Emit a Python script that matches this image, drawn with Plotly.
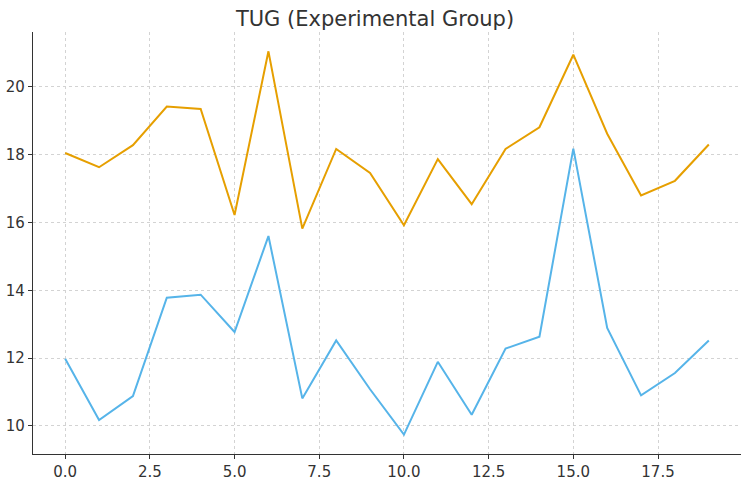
import plotly.graph_objects as go

# ========================
# Data
# ========================
sessions = list(range(20))
tug_orange = [18.05, 17.63, 18.28, 19.42, 19.35, 16.22, 21.05, 15.82, 18.17, 17.46,
              15.92, 17.87, 16.54, 18.17, 18.81, 20.95, 18.62, 16.80, 17.23, 18.30]
tug_blue = [11.98, 10.17, 10.88, 13.78, 13.87, 12.77, 15.60, 10.81, 12.52, 11.08,
            9.74, 11.89, 10.33, 12.28, 12.63, 18.18, 12.89, 10.90, 11.56, 12.52]
x_ticks = [0, 2.5, 5, 7.5, 10, 12.5, 15, 17.5]
x_tick_text = ["0.0", "2.5", "5.0", "7.5", "10.0", "12.5", "15.0", "17.5"]
y_ticks = [10, 12, 14, 16, 18, 20]

# ========================
# Figure
# ========================
fig = go.Figure()
fig.add_trace(go.Scatter(x=sessions, y=tug_orange, mode="lines",
                         line=dict(color="#E69F00", width=2), showlegend=False))
fig.add_trace(go.Scatter(x=sessions, y=tug_blue, mode="lines",
                         line=dict(color="#56B4E9", width=2), showlegend=False))

axis_style = dict(showline=True, linecolor="#333333", linewidth=1.3,
                  ticks="outside", ticklen=4, tickcolor="#333333", automargin=False,
                  showgrid=True, gridcolor="#d3d3d3", griddash="3px,3px", gridwidth=1,
                  zeroline=False, tickfont=dict(size=15, color="#333333"))

fig.update_xaxes(range=[-0.95, 19.95], tickvals=x_ticks, ticktext=x_tick_text, **axis_style)
fig.update_yaxes(range=[9.17, 21.62], tickvals=y_ticks, **axis_style)

fig.update_layout(
    title=dict(text="TUG (Experimental Group)", x=0.5, xanchor="center",
               y=0.977, yanchor="top", font=dict(size=21, color="#333333")),
    font=dict(family="DejaVu Sans"),
    width=750, height=483,
    margin=dict(l=33, r=9, t=32, b=29),
    plot_bgcolor="white", paper_bgcolor="white",
)

# drop the page's default body margin so the figure sits at the top-left corner
fig.write_html("out.html", config={"displayModeBar": False},
               post_script="document.body.style.margin='0';")
